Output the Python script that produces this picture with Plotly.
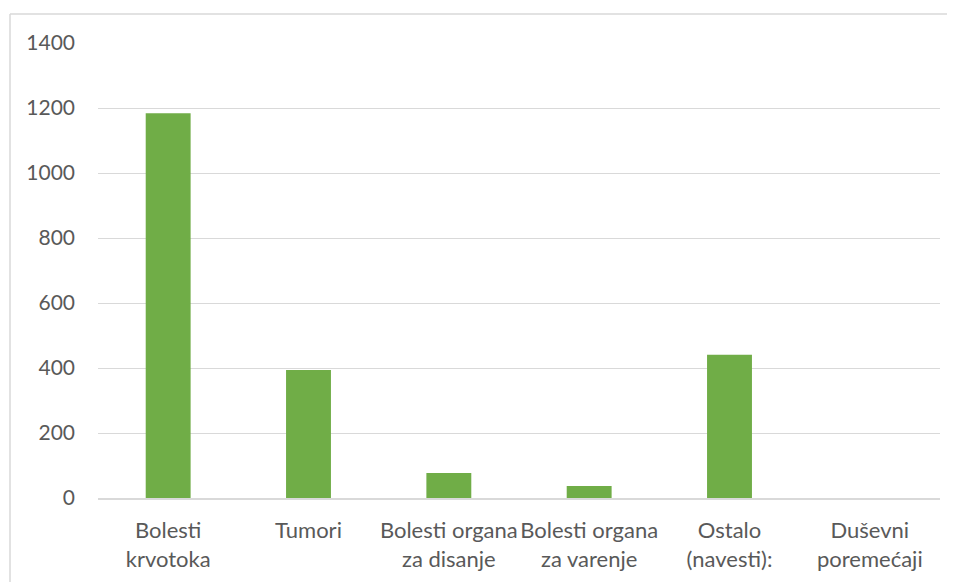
import plotly.graph_objects as go

categories = ["Bolesti<br>krvotoka", "Tumori", "Bolesti organa<br>za disanje",
              "Bolesti organa<br>za varenje", "Ostalo<br>(navesti):", "Duševni<br>poremećaji"]
values = [1184, 394, 77, 37, 441, 0]
y_ticks = [0, 200, 400, 600, 800, 1000, 1200, 1400]

# page body has an 8px margin, so the figure is drawn from (8, 8)
W, H = 947, 574
L, R, T, B = 90, 15, 35, 84
pw, ph = W - L - R, H - T - B

fig = go.Figure(go.Bar(x=categories, y=values, marker_color="#70AD47",
                       marker_line_width=0))

# outer chart border: only left and top edges are visible in the crop
bx0 = (2 - L) / pw
by1 = (H - B - 6) / ph
border = dict(color="#D9D9D9", width=1.5)
fig.add_shape(type="line", xref="paper", yref="paper", x0=bx0, x1=bx0,
              y0=-1, y1=by1, line=border, layer="below")
fig.add_shape(type="line", xref="paper", yref="paper", x0=bx0, x1=1.5,
              y0=by1, y1=by1, line=border, layer="below")

fig.update_layout(
    width=W, height=H,
    margin=dict(l=L, r=R, t=T, b=B),
    plot_bgcolor="white", paper_bgcolor="white",
    bargap=0.68,
    showlegend=False,
    font=dict(family="Lato, Open Sans, sans-serif", size=21, color="#595959"),
    xaxis=dict(showgrid=False, showline=True, linecolor="#D9D9D9", linewidth=1.5,
               ticks="", tickfont=dict(size=22), ticklabelstandoff=12,
               automargin=False),
    yaxis=dict(range=[0, 1400], tickvals=y_ticks, gridcolor="#D9D9D9", gridwidth=1,
               zeroline=False, ticks="", ticklabelstandoff=22, tickfont=dict(size=21)),
)

fig.write_html("out.html")
